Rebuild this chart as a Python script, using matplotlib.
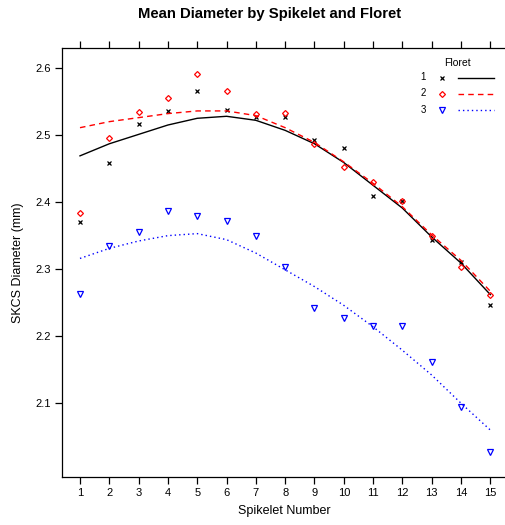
import matplotlib

matplotlib.use("Agg")
import matplotlib.pyplot as plt
from matplotlib.lines import Line2D
import numpy as np

plt.rcParams["font.family"] = ["Liberation Sans", "DejaVu Sans"]

spikelet = np.arange(1, 16)
# observed means, one list per floret
floret1 = [2.371, 2.459, 2.516, 2.536, 2.565, 2.537, 2.527, 2.527, 2.493, 2.481,
           2.409, 2.401, 2.343, 2.311, 2.246]
floret2 = [2.384, 2.496, 2.534, 2.555, 2.591, 2.565, 2.531, 2.533, 2.486, 2.452,
           2.430, 2.401, 2.349, 2.303, 2.261]
floret3 = [2.263, 2.334, 2.355, 2.387, 2.379, 2.372, 2.349, 2.303, 2.242, 2.227,
           2.215, 2.215, 2.161, 2.094, 2.028]
# smoothed (loess) curves read at each spikelet
smooth1 = [2.469, 2.487, 2.501, 2.515, 2.525, 2.528, 2.522, 2.507, 2.487, 2.459,
           2.425, 2.391, 2.348, 2.309, 2.262]
smooth2 = [2.511, 2.520, 2.526, 2.532, 2.536, 2.536, 2.529, 2.511, 2.489, 2.460,
           2.428, 2.393, 2.351, 2.313, 2.267]
smooth3 = [2.316, 2.331, 2.342, 2.350, 2.353, 2.344, 2.324, 2.299, 2.274, 2.246,
           2.214, 2.179, 2.142, 2.100, 2.060]

W, H = 505, 525
fig = plt.figure(figsize=(W / 100, H / 100), dpi=100)
ax = fig.add_axes([62 / W, 1 - 477 / H, (W - 62 + 2) / W, (477 - 48) / H])

series = [
    (floret1, smooth1, dict(marker="x", color="black", ms=3.2, mew=0.9, mfc="none"), dict(color="black", ls="-")),
    (floret2, smooth2, dict(marker="D", color="red", ms=3.0, mew=0.9, mfc="none"), dict(color="red", ls=(0, (4, 3)))),
    (floret3, smooth3, dict(marker="v", color="blue", ms=3.8, mew=0.9, mfc="none"), dict(color="blue", ls=(0, (1, 2.2)))),
]
for pts, sm, mk, ln in series:
    ax.plot(spikelet, pts, ls="none", **mk)
    ax.plot(spikelet, sm, lw=1.0, **ln)

ax.set_xlim(0.386, 15.5 + 2 / 29.3)
ax.set_ylim(1.99, 2.6 + 20 / 670)
ax.set_xticks(spikelet)
ax.set_yticks([2.1, 2.2, 2.3, 2.4, 2.5, 2.6])
ax.tick_params(direction="out", length=5, width=0.9, labelsize=8, top=True, pad=3)
ax.spines["right"].set_visible(False)
for s in ("left", "top", "bottom"):
    ax.spines[s].set_linewidth(0.9)

ax.set_xlabel("Spikelet Number", fontsize=9, labelpad=5)
ax.set_ylabel("SKCS Diameter (mm)", fontsize=9, labelpad=8)
fig.text(270 / W, 1 - 14 / H, "Mean Diameter by Spikelet and Floret", ha="center", va="center",
         fontsize=10.7, fontweight="bold")

# legend (key drawn by hand, lattice style)
fig.text(457 / W, 1 - 63 / H, "Floret", ha="center", va="center", fontsize=7.5)
for i, (pts, sm, mk, ln) in enumerate(series):
    y = 1 - (77.5 + 16 * i) / H
    fig.text(423 / W, y, str(i + 1), ha="center", va="center", fontsize=7)
    fig.add_artist(Line2D([442 / W], [y], ls="none", transform=fig.transFigure, **mk))
    fig.add_artist(Line2D([458 / W, 494 / W], [y, y], lw=1.0, transform=fig.transFigure, **ln))

fig.savefig("out.png", dpi=100)
